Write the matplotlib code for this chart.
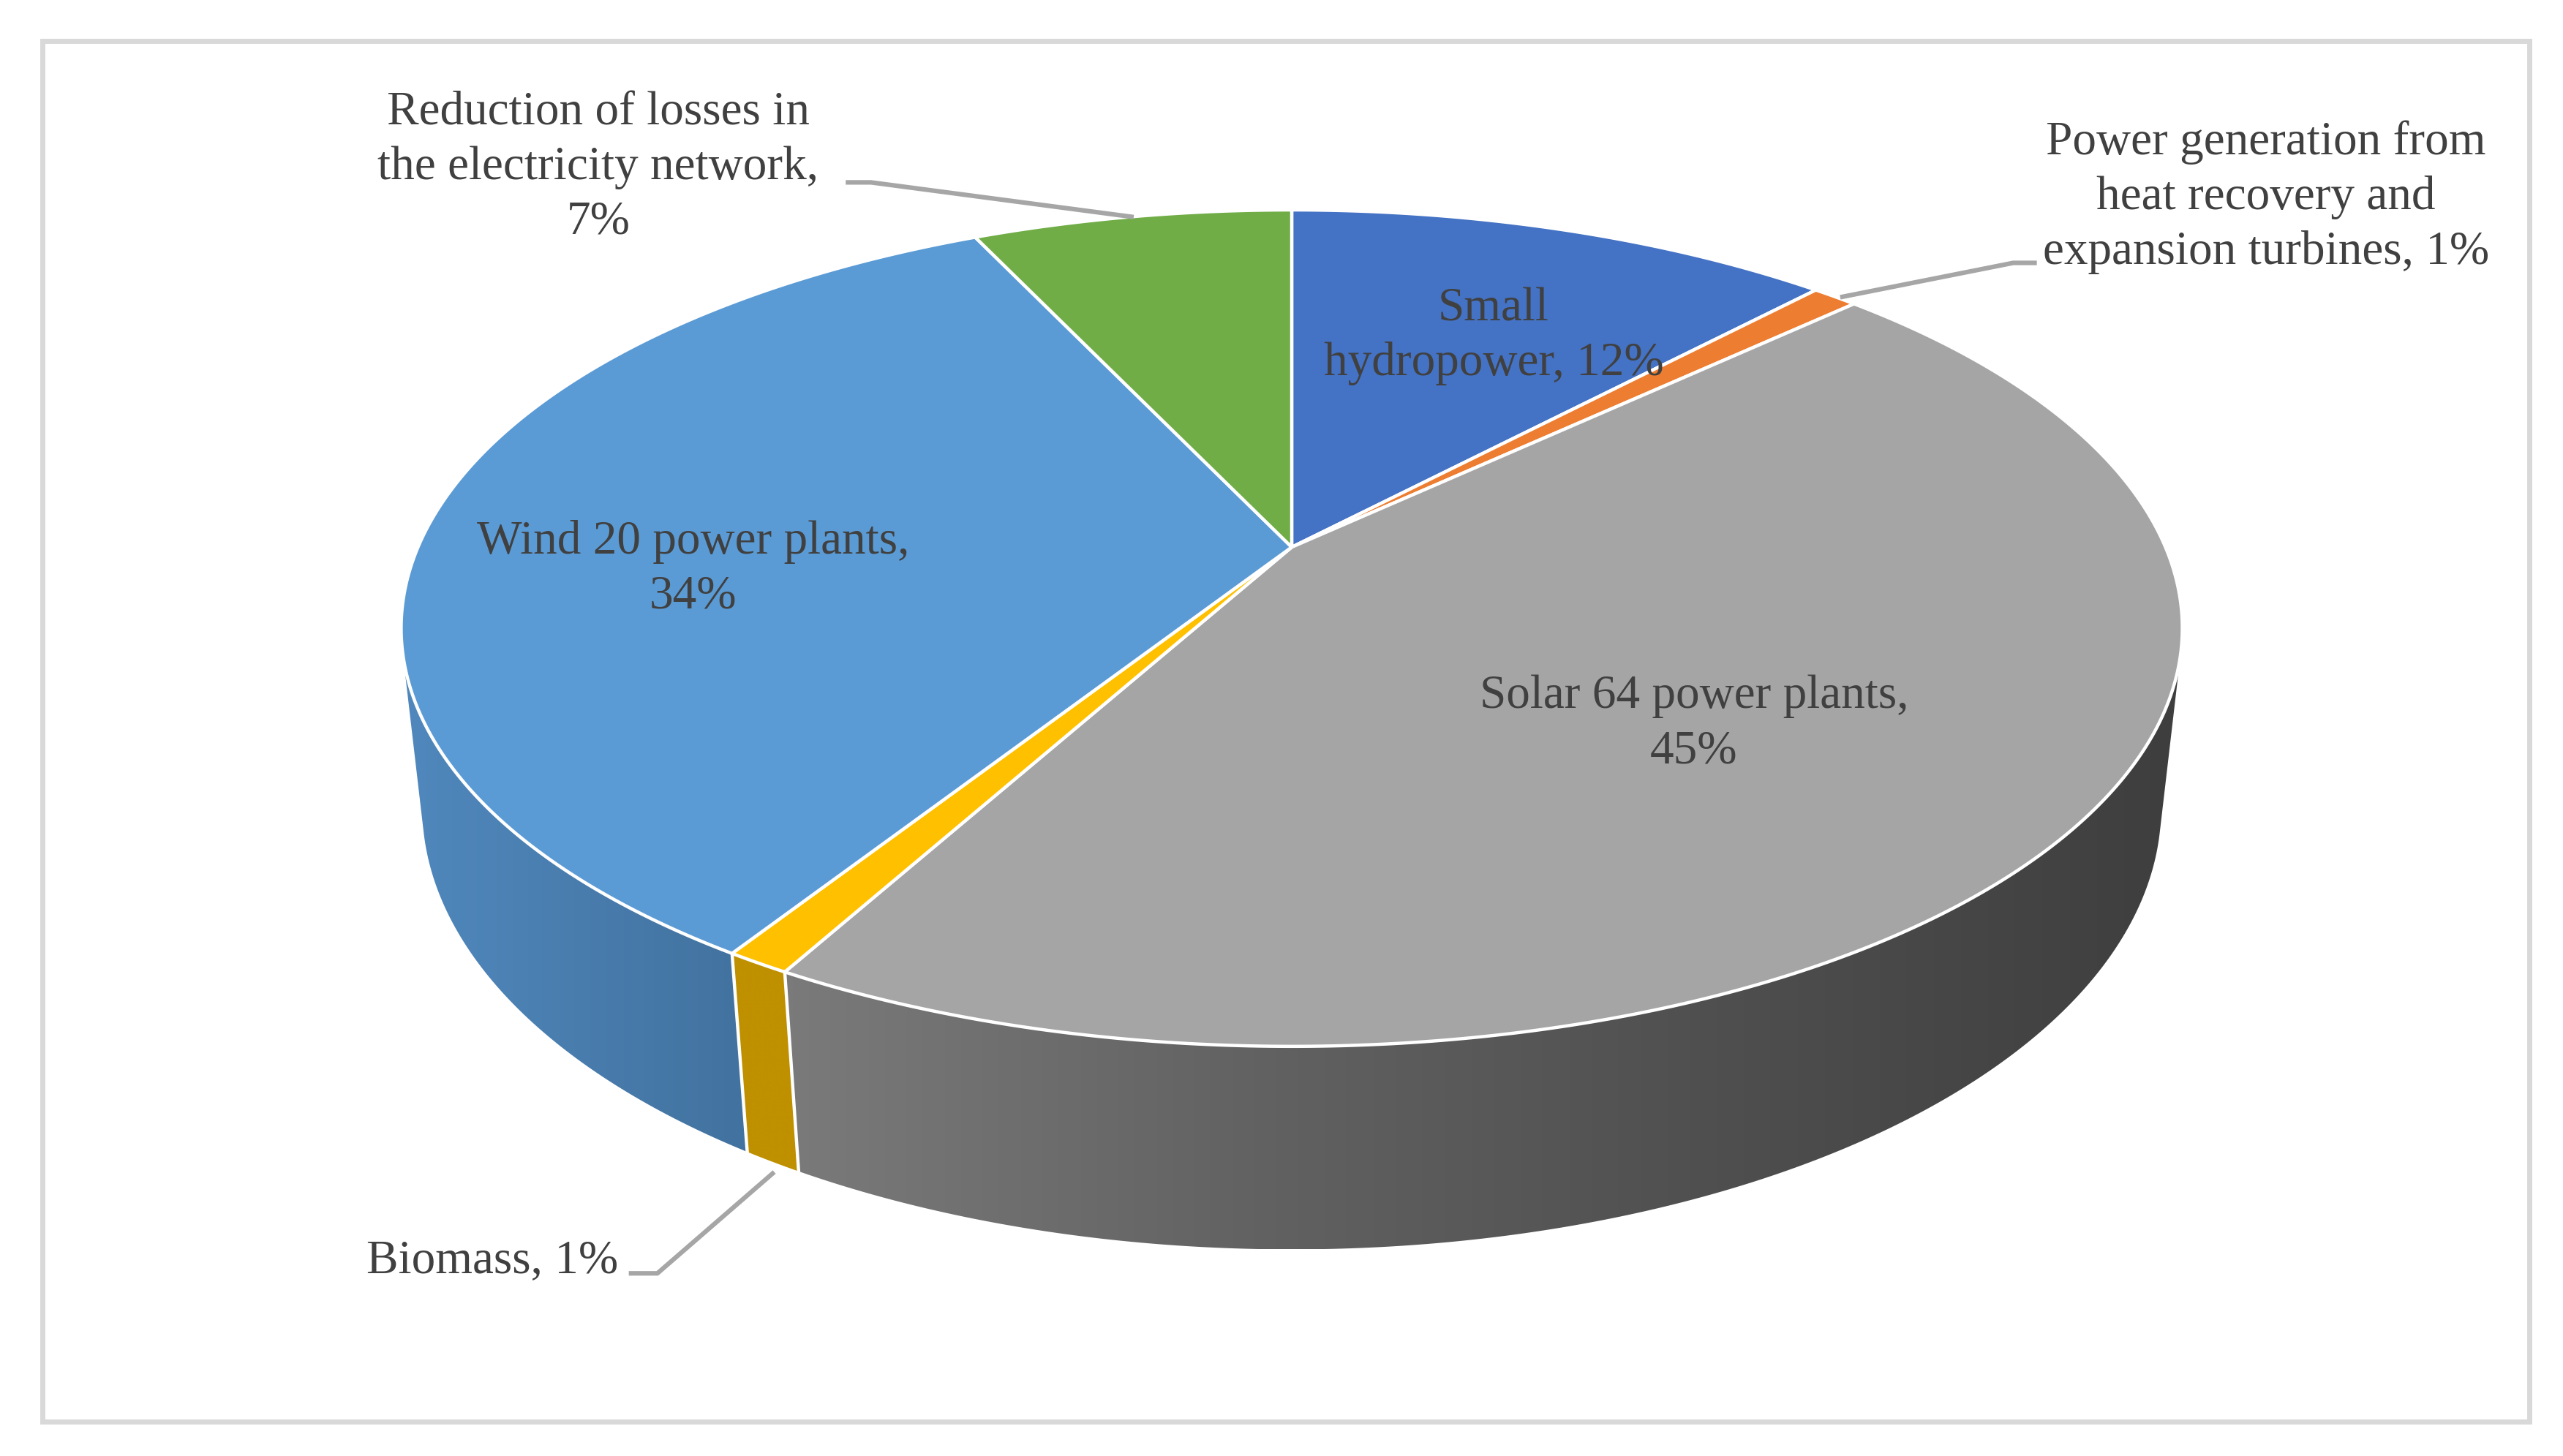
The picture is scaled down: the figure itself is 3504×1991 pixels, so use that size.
import numpy as np
import matplotlib.pyplot as plt
from matplotlib.patches import Polygon, Rectangle
from matplotlib.colors import LinearSegmentedColormap

labels = ["Small\nhydropower, 12%",
          "Power generation from\nheat recovery and\nexpansion turbines, 1%",
          "Solar 64 power plants,\n45%",
          "Biomass, 1%",
          "Wind 20 power plants,\n34%",
          "Reduction of losses in\nthe electricity network,\n7%"]
shares = [12, 1, 45, 1, 34, 7]
top_colors = ["#4472C4", "#ED7D31", "#A5A5A5", "#FFC000", "#5B9BD5", "#70AD47"]
side_colors = [["#375fa6", "#2f5190"],
               ["#c9682a", "#b55d24"],
               ["#7a7a7a", "#626262", "#4f4f4f", "#3e3e3e"],
               ["#BF9000", "#BF9000"],
               ["#5088bd", "#42729f"],
               ["#5e9339", "#507e31"]]

# label placement (pixels)
label_pos = [(2042, 460), (3098, 270), (2316, 990), (673, 1724), (948, 778), (818, 229)]

s = 3505 / 1560.0
# camera for the tilted disc
sa = 0.4608
ca = np.sqrt(1 - sa ** 2)
D = 4.582
F = 2436 * s
X0, Y0 = 786 * s, 333 * s
H = 0.2323


def project(theta, z=0.0):
    x = np.sin(theta)
    y = np.cos(theta)
    ry = y + D * ca
    rz = z - D * sa
    d = ry * ca - rz * sa
    su = ry * sa + rz * ca
    return X0 + F * x / d, Y0 - F * su / d


fig = plt.figure(figsize=(35.05, 19.91), dpi=100)
ax = fig.add_axes([0, 0, 1, 1])
ax.set_xlim(0, 3505)
ax.set_ylim(1991, 0)
ax.axis("off")

frac = np.array(shares, dtype=float) / sum(shares)
edges = np.concatenate([[0], np.cumsum(frac)]) * 2 * np.pi

# visible part of the side wall
vis_lo = np.arccos(-1 / (D * ca))
vis_hi = 2 * np.pi - vis_lo

for i in range(len(shares)):
    t0 = max(edges[i], vis_lo)
    t1 = min(edges[i + 1], vis_hi)
    if t1 <= t0:
        continue
    t = np.linspace(t0, t1, 200)
    xt, yt = project(t, 0.0)
    xb, yb = project(t[::-1], -H)
    pts = np.column_stack([np.concatenate([xt, xb]), np.concatenate([yt, yb])])
    patch = Polygon(pts, closed=True, facecolor="none", edgecolor="none")
    ax.add_patch(patch)
    cmap = LinearSegmentedColormap.from_list("side%d" % i, side_colors[i])
    grad = np.linspace(0, 1, 256).reshape(1, -1)
    xmin, xmax = pts[:, 0].min(), pts[:, 0].max()
    ymin, ymax = pts[:, 1].min(), pts[:, 1].max()
    im = ax.imshow(grad, cmap=cmap, extent=(xmin, xmax, ymax, ymin),
                   aspect="auto", interpolation="bilinear", zorder=1)
    im.set_clip_path(patch)

# white vertical seams between visible walls
for e in edges:
    if vis_lo < e < vis_hi:
        xa, ya = project(e, 0.0)
        xb, yb = project(e, -H)
        ax.plot([xa, xb], [ya, yb], color="white", lw=3.2, zorder=2)

# top face
for i in range(len(shares)):
    t = np.linspace(edges[i], edges[i + 1], 300)
    xt, yt = project(t, 0.0)
    pts = np.column_stack([np.concatenate([[X0], xt]), np.concatenate([[Y0], yt])])
    ax.add_patch(Polygon(pts, closed=True, facecolor=top_colors[i],
                         edgecolor="white", lw=3.2, joinstyle="round", zorder=3))

# leader lines
mid = (edges[:-1] + edges[1:]) / 2
lc = "#A6A6A6"
px, py = project(mid[1], 0.0)
ax.plot([px + 10, 1225 * s, 1238 * s], [py, 160 * s, 160 * s], color=lc, lw=4.5, zorder=4)
px, py = project(mid[5], 0.0)
ax.plot([516 * s, 530 * s, px], [111 * s, 111 * s, py], color=lc, lw=4.5, zorder=4)
px, py = project(mid[3], -H)
ax.plot([384 * s, 400 * s, px], [775 * s, 775 * s, py + 16], color=lc, lw=4.5, zorder=4)

for i in range(len(labels)):
    ax.text(label_pos[i][0], label_pos[i][1], labels[i], ha="center", va="center",
            fontsize=47, family="Liberation Serif", color="#404040",
            linespacing=1.33, zorder=5)

ax.add_patch(Rectangle((58, 56), 3458 - 58, 1944 - 56, fill=False,
                       edgecolor="#D9D9D9", lw=5, zorder=6))

plt.savefig("out.png", dpi=100)
